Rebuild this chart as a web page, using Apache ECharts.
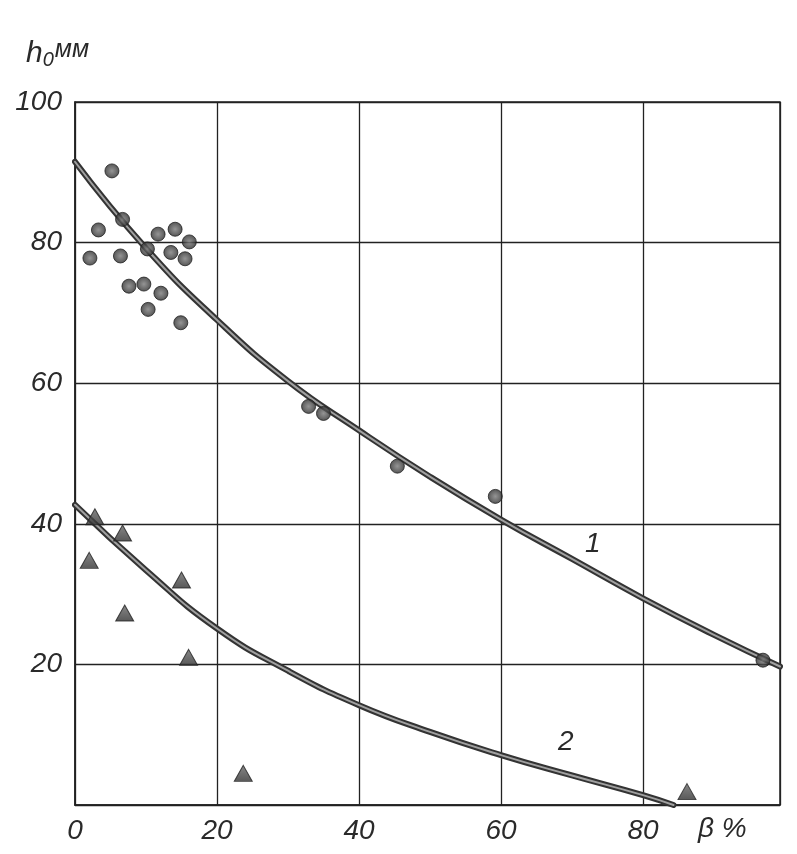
<!DOCTYPE html>
<html>
<head>
<meta charset="utf-8">
<script src="https://cdn.jsdelivr.net/npm/echarts@6/dist/echarts.min.js"></script>
<style>html,body{margin:0;padding:0;background:#fff;}#c{width:797px;height:854px;}</style>
</head>
<body>
<div id="c"></div>
<script>
// Curve 1: beta %, h0 mm
const curve1X = [0, 10, 20, 30, 40, 50, 60, 70, 80, 90, 99.3];
const curve1Y = [91.5, 79.2, 69.0, 60.3, 53.3, 46.7, 40.6, 35.0, 29.4, 24.2, 19.7];
// Curve 2
const curve2X = [0, 10, 20, 30, 40, 50, 60, 70, 80, 84.3];
const curve2Y = [42.7, 33.4, 25.1, 19.1, 14.2, 10.4, 7.1, 4.2, 1.4, 0];
// Circle data points
const circleX = [5.2, 6.7, 3.3, 11.7, 14.1, 16.1, 2.1, 6.4, 10.2, 13.5, 15.5, 7.6, 9.7, 12.1, 10.3, 14.9, 32.9, 35.0, 45.4, 59.2, 96.9];
const circleY = [90.2, 83.3, 81.8, 81.2, 81.9, 80.1, 77.8, 78.1, 79.1, 78.6, 77.7, 73.8, 74.1, 72.8, 70.5, 68.6, 56.7, 55.7, 48.2, 43.9, 20.6];
// Triangle data points
const triX = [2.8, 6.7, 2.0, 15.0, 7.0, 16.0, 23.7, 86.2];
const triY = [41.0, 38.7, 34.8, 32.0, 27.3, 21.0, 4.5, 1.9];
// Axis
const xMin = 0, xMax = 99.3, xStep = 20;
const yMin = 0, yMax = 100, yStep = 20;
const yTickLabels = ['', '20', '40', '60', '80', '100'];
const xTickLabels = ['0', '20', '40', '60', '80'];
const xAxisName = 'β %';
const yAxisNameMain = 'h';
const yAxisNameSub = '0';
const yAxisNameUnit = 'мм';
const curveLabels = ['1', '2'];

const zip = (a, b) => a.map((v, i) => [v, b[i]]);
const FONT = '"Liberation Sans", "DejaVu Sans", sans-serif';
const chart = echarts.init(document.getElementById('c'), null, {renderer: 'canvas'});

const lineBase = (data, w, c, z) => ({
  type: 'line', data, smooth: 0.5, symbol: 'none', z,
  lineStyle: {width: w, color: c, cap: 'round'}, silent: true, animation: false
});

const option = {
  backgroundColor: '#fff',
  animation: false,
  grid: {left: 75, top: 102, width: 705, height: 703, show: true, borderColor: '#222', borderWidth: 1.5, containLabel: false, outerBoundsMode: 'none'},
  xAxis: {
    type: 'value', min: xMin, max: xMax, interval: xStep,
    axisLine: {show: true, lineStyle: {color: '#222', width: 1.5}},
    axisTick: {show: false},
    splitLine: {show: true, lineStyle: {color: '#222', width: 1.3}},
    axisLabel: {
      margin: 12, color: '#2a2a2a', fontSize: 28, fontStyle: 'italic', fontFamily: FONT,
      showMaxLabel: false,
      formatter: v => { const i = Math.round(v / xStep); return (Math.abs(v - i * xStep) < 1e-6 && xTickLabels[i] !== undefined) ? xTickLabels[i] : ''; }
    }
  },
  yAxis: {
    type: 'value', min: yMin, max: yMax, interval: yStep,
    axisLine: {show: true, lineStyle: {color: '#222', width: 1.5}},
    axisTick: {show: false},
    splitLine: {show: true, lineStyle: {color: '#222', width: 1.3}},
    axisLabel: {
      margin: 13, color: '#2a2a2a', fontSize: 28, fontStyle: 'italic', fontFamily: FONT,
      formatter: v => { const i = Math.round(v / yStep); return yTickLabels[i] !== undefined ? yTickLabels[i] : ''; }
    }
  },
  series: [
    lineBase(zip(curve1X, curve1Y), 6, '#333', 3),
    lineBase(zip(curve1X, curve1Y), 2, '#a0a0a0', 4),
    lineBase(zip(curve2X, curve2Y), 6, '#333', 3),
    lineBase(zip(curve2X, curve2Y), 2, '#a0a0a0', 4),
    {
      type: 'scatter', data: zip(circleX, circleY), symbol: 'circle', symbolSize: 14, z: 5,
      itemStyle: {
        color: {type: 'radial', x: 0.5, y: 0.5, r: 0.5, colorStops: [{offset: 0, color: '#7a7a7a'}, {offset: 0.6, color: '#4a4a4a'}, {offset: 1, color: '#262626'}]},
        borderColor: '#222', borderWidth: 1
      }
    },
    {
      type: 'scatter', data: zip(triX, triY), symbol: 'triangle', symbolSize: [18, 16], z: 5,
      itemStyle: {
        color: {type: 'linear', x: 0, y: 0, x2: 0, y2: 1, colorStops: [{offset: 0, color: '#6a6a6a'}, {offset: 1, color: '#2e2e2e'}]},
        borderColor: '#222', borderWidth: 1
      }
    }
  ],
  graphic: [
    {type: 'text', left: 26, top: 38, style: {
      text: '{h|' + yAxisNameMain + '}{s|' + yAxisNameSub + '}{u|' + yAxisNameUnit + '}',
      rich: {
        h: {fontSize: 30, fontStyle: 'italic', fontFamily: FONT, fill: '#2a2a2a'},
        s: {fontSize: 20, fontStyle: 'italic', fontFamily: FONT, fill: '#2a2a2a', padding: [14, 0, 0, 0]},
        u: {fontSize: 25, fontStyle: 'italic', fontFamily: FONT, fill: '#2a2a2a', padding: [0, 0, 6, 1]}
      }
    }},
    {type: 'text', left: 698, top: 815, style: {text: xAxisName, fontSize: 28, fontStyle: 'italic', fontFamily: FONT, fill: '#2a2a2a'}},
    {type: 'text', left: 585, top: 530, style: {text: curveLabels[0], fontSize: 28, fontStyle: 'italic', fontFamily: FONT, fill: '#2a2a2a'}},
    {type: 'text', left: 558, top: 728, style: {text: curveLabels[1], fontSize: 28, fontStyle: 'italic', fontFamily: FONT, fill: '#2a2a2a'}}
  ]
};
chart.setOption(option);
</script>
</body>
</html>
